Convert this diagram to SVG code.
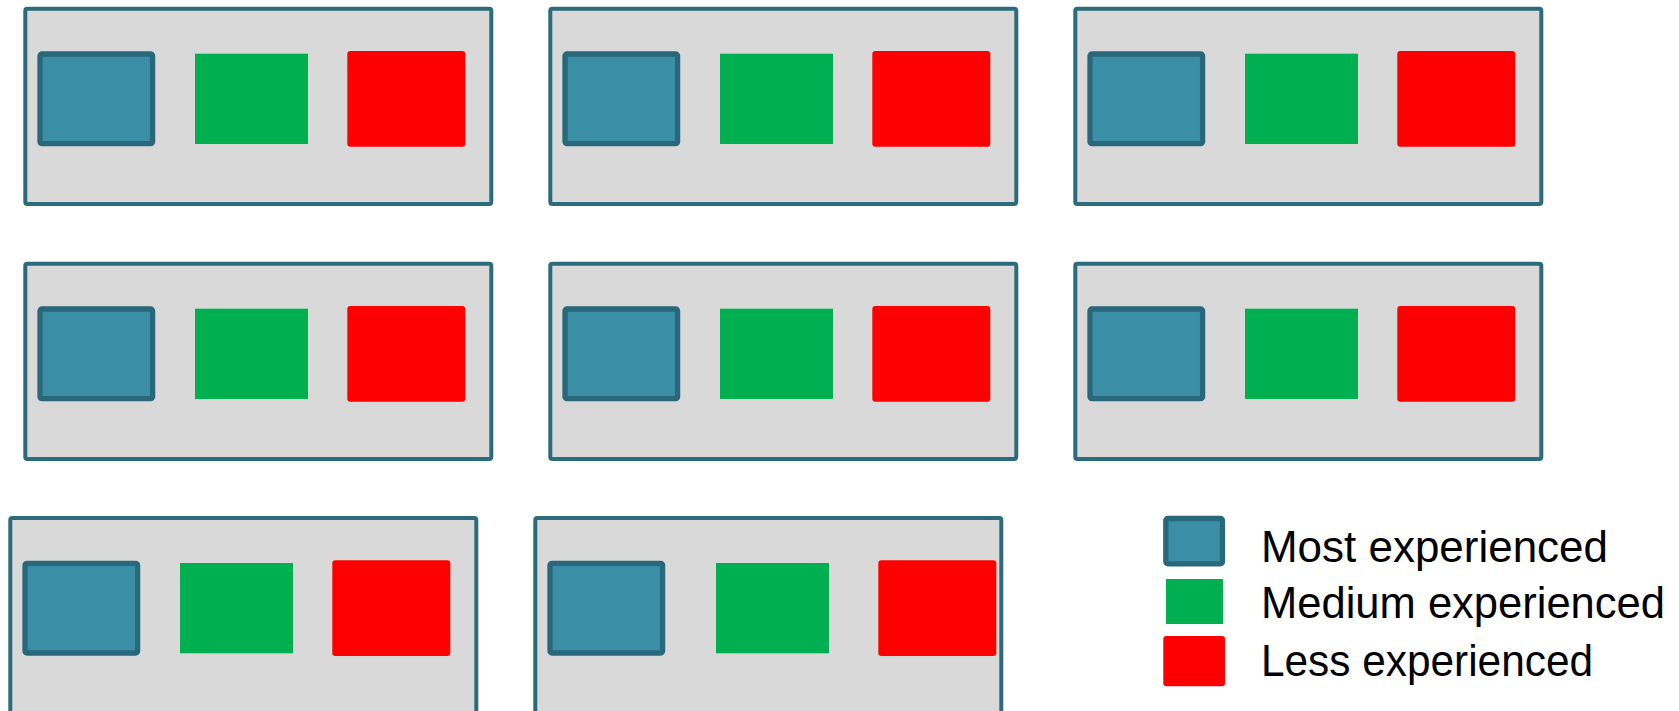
<svg xmlns="http://www.w3.org/2000/svg" width="1679" height="711" viewBox="0 0 1679 711">
<style>
.outer{fill:#D9D9D9;stroke:#2C6B7B;stroke-width:4}
.most{fill:#3A8FA6;stroke:#28687A;stroke-width:5.3}
.med{fill:#00AF50}
.less{fill:#FF0000}
.lbl{font-family:"Liberation Sans",Arial,sans-serif;font-size:44px;fill:#000}
</style>
<defs>
<g id="team">
<rect class="outer" x="2" y="2" width="466" height="195.3" rx="2"/>
<rect class="most" x="16.7" y="47.3" width="112.6" height="89.7" rx="2"/>
<rect class="med" x="171.7" y="47" width="113" height="90.3"/>
<rect class="less" x="324" y="44.3" width="118" height="95.7" rx="3"/>
</g>
</defs>
<g id="team-r1c1"><use href="#team" transform="translate(23.3,6.7)"/></g>
<g id="team-r1c2"><use href="#team" transform="translate(548.3,6.7)"/></g>
<g id="team-r1c3"><use href="#team" transform="translate(1073.3,6.7)"/></g>
<g id="team-r2c1"><use href="#team" transform="translate(23.3,261.7)"/></g>
<g id="team-r2c2"><use href="#team" transform="translate(548.3,261.7)"/></g>
<g id="team-r2c3"><use href="#team" transform="translate(1073.3,261.7)"/></g>
<g id="team-r3c1"><use href="#team" transform="translate(8.3,516)"/></g>
<g id="team-r3c2" transform="translate(533.3,516)">
<rect class="outer" x="2" y="2" width="466" height="195.3" rx="2"/>
<rect class="most" x="16.7" y="47.3" width="112.6" height="89.7" rx="2"/>
<rect class="med" x="182.7" y="47" width="113" height="90.3"/>
<rect class="less" x="345" y="44.3" width="118" height="95.7" rx="3"/>
</g>
<g id="connectors"></g>
<g id="legend">
<rect class="most" x="1165.8" y="518.5" width="56.7" height="45.3" rx="2"/>
<rect class="med" x="1166" y="579" width="57" height="45"/>
<rect class="less" x="1163.3" y="636" width="61.7" height="50.3" rx="3"/>
<text class="lbl" x="1261" y="561.7" textLength="347" lengthAdjust="spacingAndGlyphs">Most experienced</text>
<text class="lbl" x="1261" y="618.3" textLength="404" lengthAdjust="spacingAndGlyphs">Medium experienced</text>
<text class="lbl" x="1261" y="676" textLength="332" lengthAdjust="spacingAndGlyphs">Less experienced</text>
</g>
</svg>
